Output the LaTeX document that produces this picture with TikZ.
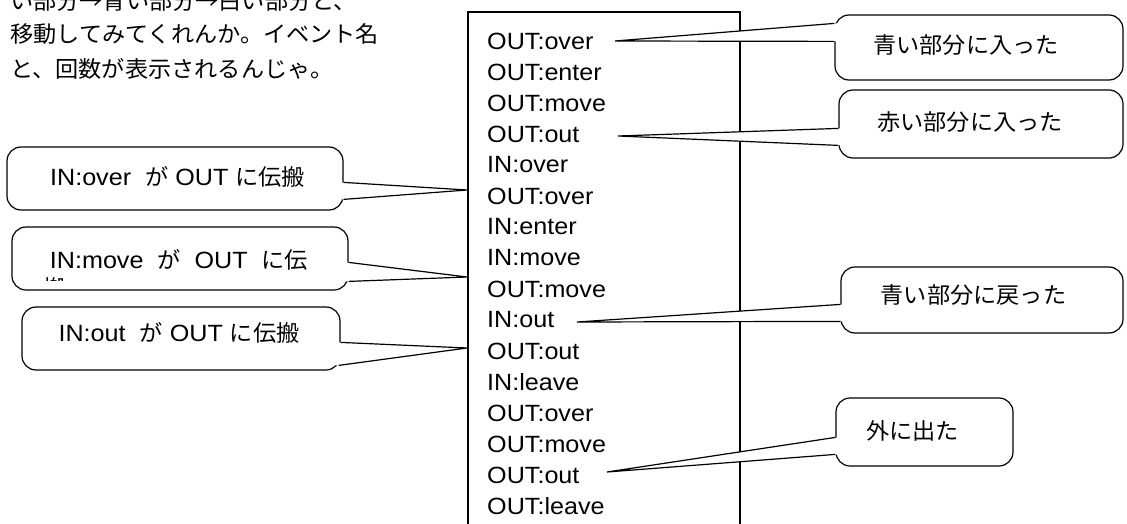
\documentclass[tikz,border=0pt]{standalone}
\usepackage{fontspec}
\setmainfont{Liberation Sans}[FakeStretch=1.07]
\newfontfamily\jpf{Noto Sans CJK JP}[FakeStretch=1.03]
\newcommand\J[1]{{\jpf\fontsize{22.5}{28}\selectfont #1}}
\usetikzlibrary{calc}
\tikzset{
  lst/.style={anchor=west, inner sep=0pt, font=\fontsize{23.5}{28}\selectfont},
  jtxt/.style={inner sep=0pt, font=\jpf\fontsize{22.5}{28}\selectfont},
  mtxt/.style={inner sep=0pt, font=\fontsize{23.5}{28}\selectfont},
  cbox/.style={draw, line width=1.2pt, fill=white, rounded corners=14pt, inner sep=0pt},
  ptr/.style={line width=1.2pt, line join=miter},
  frame/.style={line width=1.2pt},
}
\newcommand\callptr[5]{%
  \fill[white] ($(#1)+(#3)+(#5,0)$) -- (#2) -- ($(#1)+(#4)+(#5,0)$) -- cycle;
  \draw[ptr] ($(#1)+(#3)$) -- (#2) -- ($(#1)+(#4)$);
}
\begin{document}
\begin{tikzpicture}[x=1pt,y=-1pt]
\useasboundingbox (0,0) rectangle (1127,524);
\clip (0,0) rectangle (1127,524);
\fill[white] (0,0) rectangle (1127,524);

% paragraph (top line cut by the edge, as in the reference)
\node[jtxt, anchor=west] (p1) at (10,1) {い部分→青い部分→白い部分と、};
\node[jtxt, anchor=west] (p2) at (10,34) {移動してみてくれんか。イベント名};
\node[jtxt, anchor=west] (p3) at (10,68.5) {と、回数が表示されるんじゃ。};

% event log frame
\draw[frame] (468,540) -- (468,12) -- (740,12) -- (740,540);
\foreach \t [count=\i] in {OUT:over,OUT:enter,OUT:move,OUT:out,IN:over,OUT:over,IN:enter,IN:move,OUT:move,IN:out,OUT:out,IN:leave,OUT:over,OUT:move,OUT:out,OUT:leave}
  \node[lst] (r\i) at (487,{41+31*(\i-1)}) {\t};

% tips
\coordinate (t1) at (615,41);
\coordinate (t2) at (618,136);
\coordinate (t3) at (577,322);
\coordinate (t4) at (607,472);
\coordinate (tA) at (467,190);
\coordinate (tB) at (467,277);
\coordinate (tC) at (467,348);

% callout boxes
\node[cbox, minimum width=288pt, minimum height=65pt] (b1) at (979,47.5) {};
\node[cbox, minimum width=284pt, minimum height=68pt] (b2) at (981,124) {};
\node[cbox, minimum width=282pt, minimum height=66pt] (b3) at (982,300) {};
\node[cbox, minimum width=177pt, minimum height=68pt] (b4) at (924.5,432) {};
\node[cbox, minimum width=336pt, minimum height=63pt] (bA) at (175,178.5) {};
\node[cbox, minimum width=336pt, minimum height=63pt] (bB) at (180,258.5) {};
\node[cbox, minimum width=318pt, minimum height=63pt] (bC) at (181,338.5) {};

% pointers
\callptr{b1.north west}{t1}{0,9}{0,27}{3}
\callptr{b2.north west}{t2}{0,39}{0,56}{3}
\callptr{b3.north west}{t3}{0,38}{0,55}{3}
\callptr{b4.north west}{t4}{0,40}{0,57}{3}
\callptr{bA.north east}{tA}{0,36}{0,53}{-3}
\callptr{bB.north east}{tB}{0,36}{0,55}{-3}
\callptr{bC.north east}{tC}{0,36}{-2,59}{-3}

% callout texts
\node[jtxt] (l1) at (966,45) {青い部分に入った};
\node[jtxt] (l2) at (970,122) {赤い部分に入った};
\node[jtxt] (l3) at (973.5,295) {青い部分に戻った};
\node[jtxt] (l4) at (912.5,431) {外に出た};
\node[mtxt] (lA) at (177.5,177) {IN:over\ \ \J{が} OUT \J{に伝搬}};
\node[mtxt] (lB) at (179,260) {IN:move\ \ \J{が}\ \ OUT\ \ \J{に伝}};
\node[mtxt] (lC) at (179,333) {IN:out\ \ \J{が} OUT \J{に伝搬}};
\begin{scope}
  \clip (30,277) rectangle (90,280.5);
  \node[jtxt, anchor=west] (lB2) at (43,288) {搬};
\end{scope}
\end{tikzpicture}
\end{document}
